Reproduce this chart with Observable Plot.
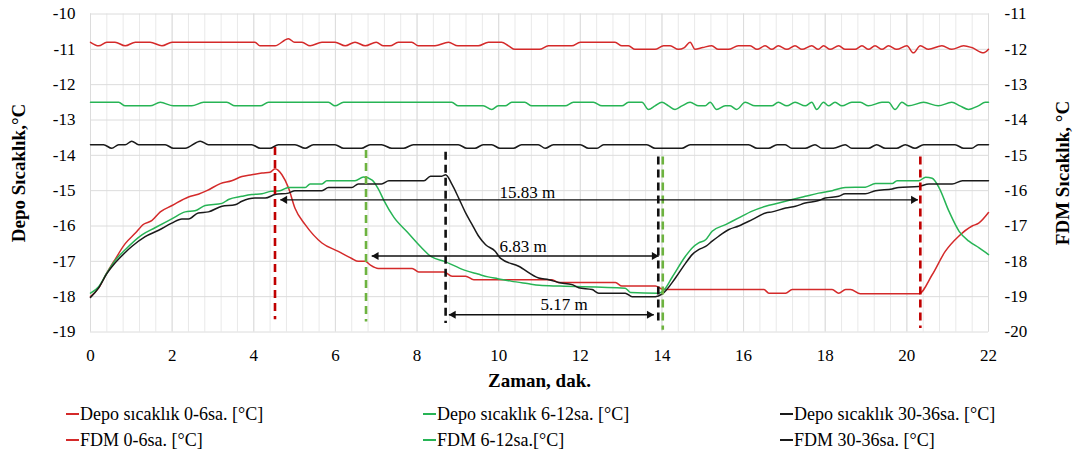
<!DOCTYPE html>
<html><head><meta charset="utf-8">
<script src="https://cdn.jsdelivr.net/npm/d3@7"></script>
<script src="https://cdn.jsdelivr.net/npm/@observablehq/plot@0.6"></script>
<style>
body{margin:0;background:#fff;font-family:"Liberation Serif","Times New Roman",Tinos,"DejaVu Serif",serif;color:#000;}
#chart{width:1078px;height:460px;overflow:hidden;}
#chart svg{display:block;}
.legend{display:grid;grid-template-columns:357px 357px 300px;margin-left:66px;margin-top:6px;font-size:18px;}
.item{height:26px;line-height:26px;white-space:nowrap;display:flex;align-items:center;}
.sw{display:inline-block;width:13px;height:2px;margin-right:1px;}
</style></head><body><div id="chart"></div>
<script>
// ---- data (minutes, °C) ----
// Depo series: read on the left axis
const depo06 = [[0,-10.8],[0.2,-10.9],[0.4,-10.8],[0.6,-10.8],[0.85,-10.9],[1.1,-10.8],[1.46,-10.8],[1.75,-10.9],[2.0,-10.8],[4.03,-10.8],[4.15,-10.9],[4.52,-10.9],[4.85,-10.7],[5.0,-10.8],[5.18,-10.8],[5.38,-10.9],[5.67,-10.8],[5.99,-10.8],[6.24,-10.9],[6.48,-10.8],[6.73,-10.9],[7.0,-10.8],[7.18,-10.9],[7.34,-10.9],[7.54,-10.8],[7.87,-10.8],[8.03,-10.9],[8.44,-10.9],[8.77,-10.8],[9.0,-10.9],[9.5,-10.9],[9.75,-10.8],[10.07,-10.8],[10.24,-10.9],[10.4,-11.0],[11.0,-11.0],[11.22,-10.9],[11.79,-10.9],[12.0,-10.8],[12.85,-10.8],[13.02,-10.9],[13.18,-10.9],[13.34,-11.0],[13.83,-11.0],[14.04,-10.9],[14.2,-10.9],[14.4,-11.0],[14.55,-10.95],[14.69,-10.8],[14.81,-11.0],[15.0,-10.95],[15.22,-10.9],[15.38,-11.0],[15.63,-11.0],[15.87,-10.9],[16.16,-10.9],[16.33,-11.0],[16.53,-10.9],[16.69,-11.0],[16.85,-10.9],[17.06,-11.0],[17.26,-10.9],[17.43,-11.0],[17.67,-10.9],[17.83,-11.0],[17.96,-10.9],[18.12,-11.0],[18.33,-10.9],[18.49,-11.0],[18.73,-11.0],[18.9,-10.9],[19.06,-11.0],[19.22,-10.9],[19.39,-11.0],[19.55,-10.9],[19.75,-11.0],[20.0,-10.9],[20.16,-11.1],[20.33,-10.9],[20.53,-11.0],[20.86,-10.9],[21.1,-11.0],[21.39,-10.9],[21.59,-10.95],[21.88,-11.1],[22.0,-11.0]];
const depo612 = [[0,-12.5],[0.69,-12.5],[0.85,-12.6],[1.46,-12.6],[1.71,-12.5],[2.03,-12.6],[2.48,-12.6],[2.77,-12.5],[3.34,-12.5],[3.54,-12.6],[4.16,-12.6],[4.36,-12.5],[5.83,-12.5],[5.99,-12.6],[6.2,-12.5],[8.85,-12.5],[9.01,-12.6],[9.62,-12.6],[9.83,-12.7],[9.99,-12.6],[10.16,-12.6],[10.32,-12.5],[10.64,-12.5],[10.81,-12.6],[11.63,-12.6],[11.83,-12.5],[12.32,-12.5],[12.53,-12.6],[13.02,-12.6],[13.18,-12.5],[13.51,-12.5],[13.67,-12.7],[13.83,-12.6],[14.0,-12.5],[14.16,-12.6],[14.32,-12.7],[14.49,-12.6],[14.69,-12.5],[14.9,-12.6],[15.06,-12.6],[15.18,-12.5],[15.34,-12.7],[15.55,-12.6],[15.67,-12.6],[15.83,-12.7],[16.04,-12.5],[16.28,-12.6],[16.69,-12.6],[16.85,-12.5],[17.06,-12.6],[17.26,-12.5],[17.51,-12.6],[17.67,-12.5],[17.79,-12.7],[17.96,-12.5],[18.08,-12.6],[18.24,-12.5],[18.41,-12.6],[18.65,-12.5],[18.86,-12.5],[19.06,-12.6],[19.39,-12.5],[19.55,-12.5],[19.71,-12.7],[19.88,-12.5],[20.04,-12.6],[20.41,-12.5],[20.77,-12.6],[21.1,-12.5],[21.3,-12.6],[21.51,-12.7],[21.75,-12.6],[21.92,-12.5],[22.0,-12.5]];
const depo3036 = [[0,-13.7],[0.32,-13.7],[0.52,-13.8],[0.69,-13.7],[0.85,-13.7],[1.01,-13.6],[1.18,-13.7],[1.83,-13.7],[2.03,-13.8],[2.32,-13.8],[2.69,-13.6],[2.89,-13.7],[3.95,-13.7],[4.16,-13.8],[4.4,-13.8],[4.6,-13.7],[5.01,-13.7],[5.26,-13.8],[5.46,-13.7],[5.99,-13.7],[6.2,-13.8],[6.64,-13.8],[6.85,-13.7],[7.13,-13.7],[7.38,-13.8],[7.67,-13.8],[7.91,-13.7],[9.01,-13.7],[9.22,-13.8],[9.42,-13.8],[9.62,-13.7],[9.83,-13.7],[10.03,-13.8],[10.36,-13.8],[10.56,-13.7],[10.97,-13.7],[11.14,-13.8],[11.34,-13.7],[12.0,-13.7],[12.2,-13.8],[12.41,-13.8],[12.57,-13.7],[13.63,-13.7],[13.83,-13.8],[14.49,-13.8],[14.69,-13.7],[16.12,-13.7],[16.33,-13.8],[16.61,-13.8],[16.82,-13.7],[17.02,-13.7],[17.18,-13.8],[17.51,-13.8],[17.75,-13.7],[17.92,-13.8],[18.2,-13.8],[18.49,-13.7],[18.65,-13.8],[19.06,-13.8],[19.26,-13.7],[19.47,-13.8],[19.75,-13.8],[19.96,-13.7],[20.2,-13.8],[20.41,-13.7],[21.18,-13.7],[21.39,-13.8],[21.59,-13.8],[21.75,-13.7],[22.0,-13.7]];
// FDM series: read on the right axis
const fdm06 = [[0,-19.0],[0.2,-18.75],[0.4,-18.33],[0.6,-17.95],[0.85,-17.5],[1.1,-17.2],[1.3,-16.95],[1.5,-16.85],[1.71,-16.6],[2.0,-16.42],[2.4,-16.18],[2.64,-16.1],[2.85,-16.0],[3.18,-15.8],[3.46,-15.72],[3.71,-15.6],[3.95,-15.55],[4.2,-15.5],[4.4,-15.48],[4.52,-15.38],[4.69,-15.55],[4.85,-15.92],[5.01,-16.5],[5.26,-16.96],[5.67,-17.48],[6.07,-17.72],[6.4,-17.92],[6.56,-18.0],[6.73,-18.0],[6.85,-18.1],[7.05,-18.2],[7.88,-18.2],[8.04,-18.3],[8.66,-18.3],[8.86,-18.42],[9.19,-18.42],[9.39,-18.52],[11.31,-18.52],[11.47,-18.6],[12.86,-18.6],[13.02,-18.7],[13.84,-18.7],[14.0,-18.78],[14.2,-18.8],[16.5,-18.8],[16.62,-18.9],[17.03,-18.9],[17.19,-18.8],[18.17,-18.8],[18.33,-18.9],[18.5,-18.8],[18.62,-18.8],[18.86,-18.92],[20.29,-18.92],[20.62,-18.38],[20.94,-17.72],[21.27,-17.29],[21.6,-17.0],[21.76,-16.92],[22.0,-16.62]];
const fdm612 = [[0,-18.9],[0.2,-18.72],[0.4,-18.33],[0.6,-17.98],[0.85,-17.67],[1.26,-17.25],[1.58,-17.05],[1.99,-16.8],[2.32,-16.6],[2.56,-16.57],[2.81,-16.42],[3.22,-16.36],[3.38,-16.25],[3.71,-16.16],[3.95,-16.11],[4.2,-16.09],[4.4,-16.02],[4.64,-16.0],[4.85,-15.91],[5.26,-15.91],[5.38,-15.81],[5.67,-15.81],[5.79,-15.72],[6.48,-15.72],[6.69,-15.61],[6.9,-15.7],[7.05,-15.95],[7.19,-16.28],[7.43,-16.75],[7.76,-17.17],[8.1,-17.6],[8.35,-17.87],[8.67,-18.0],[9.16,-18.25],[9.49,-18.36],[9.74,-18.44],[9.98,-18.49],[10.3,-18.56],[10.7,-18.63],[11.0,-18.68],[11.5,-18.7],[13.1,-18.76],[13.23,-18.88],[13.9,-18.9],[14.02,-18.85],[14.25,-18.45],[14.58,-17.85],[14.74,-17.62],[14.9,-17.48],[15.07,-17.39],[15.23,-17.15],[15.56,-16.96],[15.88,-16.77],[16.21,-16.58],[16.54,-16.44],[16.86,-16.35],[17.19,-16.25],[17.51,-16.16],[17.84,-16.07],[18.17,-16.0],[18.49,-15.91],[18.98,-15.9],[19.23,-15.8],[19.64,-15.8],[19.76,-15.72],[20.29,-15.72],[20.46,-15.62],[20.62,-15.65],[20.79,-15.92],[21.03,-16.58],[21.28,-17.15],[21.52,-17.43],[21.77,-17.62],[22.0,-17.81]];
const fdm3036 = [[0,-19.02],[0.2,-18.75],[0.4,-18.35],[0.6,-18.05],[0.85,-17.75],[1.01,-17.58],[1.34,-17.3],[1.67,-17.12],[1.99,-16.92],[2.24,-16.8],[2.4,-16.8],[2.64,-16.63],[2.89,-16.6],[3.22,-16.44],[3.54,-16.4],[3.71,-16.3],[4.03,-16.21],[4.28,-16.21],[4.52,-16.11],[4.85,-16.07],[5.01,-16.0],[5.67,-16.0],[5.83,-15.91],[6.4,-15.91],[6.56,-15.81],[7.13,-15.81],[7.31,-15.72],[8.17,-15.72],[8.33,-15.59],[8.61,-15.59],[8.7,-15.55],[8.86,-15.83],[9.02,-16.21],[9.19,-16.63],[9.35,-16.96],[9.51,-17.29],[9.68,-17.53],[9.92,-17.72],[10.04,-17.91],[10.49,-18.14],[10.98,-18.47],[11.23,-18.52],[11.47,-18.6],[11.8,-18.66],[11.96,-18.75],[12.29,-18.8],[12.45,-18.9],[13.1,-18.9],[13.27,-19.0],[13.84,-19.0],[14.0,-18.93],[14.33,-18.47],[14.58,-18.05],[14.74,-17.81],[14.9,-17.67],[15.07,-17.58],[15.23,-17.43],[15.39,-17.29],[15.64,-17.1],[15.88,-17.0],[16.21,-16.82],[16.54,-16.63],[16.7,-16.6],[17.03,-16.49],[17.27,-16.44],[17.51,-16.35],[17.84,-16.28],[18.0,-16.21],[18.33,-16.16],[18.49,-16.09],[18.98,-16.09],[19.23,-16.0],[19.64,-15.95],[19.8,-15.91],[20.29,-15.88],[20.54,-15.81],[21.11,-15.81],[21.36,-15.72],[22.0,-15.72]];

const seriesNames = ["Depo sıcaklık 0-6sa. [°C]","Depo sıcaklık 6-12sa. [°C]","Depo sıcaklık 30-36sa. [°C]","FDM 0-6sa. [°C]","FDM 6-12sa.[°C]","FDM 30-36sa. [°C]"];
const seriesData = [depo06, depo612, depo3036, fdm06, fdm612, fdm3036];
const seriesAxis = ["left","left","left","right","right","right"];
const seriesColors = ["#D42A2A","#27B455","#1A1A1A","#D42A2A","#27B455","#1A1A1A"];

// event markers (vertical dashed lines), left-axis units
const markerT = [4.52, 6.75, 8.7, 13.91, 14.02, 20.33];
const markerTop = [-13.78, -13.86, -13.91, -14.05, -14.05, -14.05];
const markerBottom = [-18.65, -18.72, -18.76, -18.8, -18.95, -18.9];
const markerColors = ["#C00000","#6DB33F","#111111","#111111","#6DB33F","#C00000"];

// duration arrows (left-axis units)
const spanStart = [4.65, 6.89, 8.78];
const spanEnd = [20.27, 13.92, 13.8];
const spanLevel = [-15.26, -16.85, -18.51];
const spanLabels = ["15.83 m", "6.83 m", "5.17 m"];
const spanLabelT = [10.7, 10.6, 11.6];
const spanLabelY = [-15.05, -16.58, -18.22];

const xTicks = [0,2,4,6,8,10,12,14,16,18,20,22];
const yTicks = [-19,-18,-17,-16,-15,-14,-13,-12,-11,-10];
const RIGHT_OFFSET = 1; // right axis = left axis - 1

// ---- build tables ----
const lines = seriesNames.map((name, i) => ({
  name, color: seriesColors[i],
  pts: seriesData[i].map(([t, v]) => ({t, y: seriesAxis[i] === "right" ? v + RIGHT_OFFSET : v}))
}));
const markers = markerT.map((t, i) => ({t, y1: markerTop[i], y2: markerBottom[i], c: markerColors[i]}));
const spans = spanLabels.map((label, i) => ({t1: spanStart[i], t2: spanEnd[i], y: spanLevel[i], label, lt: spanLabelT[i], ly: spanLabelY[i]}));

const gridMinor = d3.range(0, 56).map(i => +(i * 0.4).toFixed(1)).concat([22]);

const fontFamily = '"Liberation Serif","Times New Roman",Tinos,"DejaVu Serif",serif';

const chart = Plot.plot({
  width: 1078, height: 395,
  marginLeft: 90, marginRight: 90, marginTop: 13.5, marginBottom: 63.5,
  x: {domain: [0, 22]},
  y: {domain: [-19, -10]},
  style: {fontFamily, fontSize: "17px", color: "#000", background: "#fff", overflow: "visible"},
  marks: [
    Plot.ruleX(gridMinor, {stroke: "#E9E9E9", strokeWidth: 1}),
    Plot.ruleX(xTicks, {stroke: "#DCDCDC", strokeWidth: 1}),
    Plot.ruleY(yTicks, {stroke: "#DCDCDC", strokeWidth: 1}),
    Plot.axisY(yTicks, {anchor: "left", tickSize: 0, tickPadding: 15, tickFormat: d => String(d), label: null, fontSize: 17, fontFamily}),
    Plot.axisY(yTicks, {anchor: "right", tickSize: 0, tickPadding: 16, tickFormat: d => String(d - RIGHT_OFFSET), label: null, fontSize: 17, fontFamily}),
    Plot.axisX(xTicks, {anchor: "bottom", tickSize: 0, tickPadding: 17, tickFormat: d => String(d), label: null, fontSize: 17, fontFamily}),
    ...lines.map(s => Plot.line(s.pts, {x: "t", y: "y", stroke: s.color, strokeWidth: 1.5, curve: "monotone-x"})),
    Plot.ruleX(markers, {x: "t", y1: "y1", y2: "y2", stroke: "c", strokeWidth: 2.6, strokeDasharray: "8,5"}),
    Plot.link(spans, {x1: "t1", x2: "t2", y1: "y", y2: "y", stroke: "#111", strokeWidth: 1.4}),
    Plot.dot(spans, {x: "t2", y: "y", symbol: "triangle", r: 3, rotate: 90, dx: -4.5, fill: "#111", stroke: "none"}),
    Plot.dot(spans, {x: "t1", y: "y", symbol: "triangle", r: 3, rotate: -90, dx: 4.5, fill: "#111", stroke: "none"}),
    Plot.text(spans, {x: "lt", y: "ly", text: "label", fontSize: 17, fill: "#000", fontFamily}),
    Plot.text(["Depo Sıcaklık,°C"], {frameAnchor: "left", textAnchor: "middle", lineAnchor: "middle", dx: -72, rotate: -90, fontWeight: "bold", fontSize: 19, fill: "#000", fontFamily}),
    Plot.text(["FDM Sıcaklık, °C"], {frameAnchor: "right", textAnchor: "middle", lineAnchor: "middle", dx: 74, rotate: -90, fontWeight: "bold", fontSize: 19, fill: "#000", fontFamily}),
    Plot.text(["Zaman, dak."], {frameAnchor: "bottom", textAnchor: "middle", lineAnchor: "middle", dy: 49, fontWeight: "bold", fontSize: 19, fill: "#000", fontFamily})
  ]
});
chart.setAttribute("color", "#000");
const root = document.getElementById("chart");
root.appendChild(chart);

// legend
const legend = document.createElement("div");
legend.className = "legend";
lines.forEach(s => {
  const it = document.createElement("div");
  it.className = "item";
  const sw = document.createElement("span");
  sw.className = "sw";
  sw.style.background = s.color;
  it.appendChild(sw);
  it.appendChild(document.createTextNode(s.name));
  legend.appendChild(it);
});
root.appendChild(legend);
</script></body></html>
